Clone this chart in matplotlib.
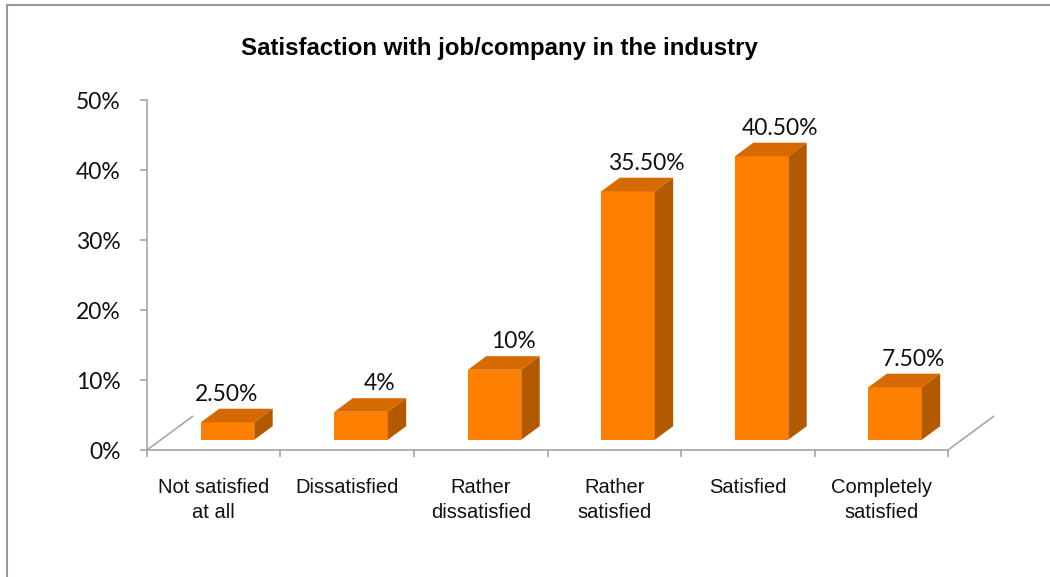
import matplotlib
matplotlib.use("Agg")
import matplotlib.pyplot as plt
from matplotlib.lines import Line2D

categories = ["Not satisfied\nat all", "Dissatisfied", "Rather\ndissatisfied",
              "Rather\nsatisfied", "Satisfied", "Completely\nsatisfied"]
values = [2.5, 4, 10, 35.5, 40.5, 7.5]
value_labels = ["2.50%", "4%", "10%", "35.50%", "40.50%", "7.50%"]
yticks = [0, 10, 20, 30, 40, 50]
ytick_labels = ["0%", "10%", "20%", "30%", "40%", "50%"]

# pseudo-3d look: floor depth vector in data units, bar placed between two depth planes
depth = (0.345, 4.86)
front_z, back_z = 0.30, 0.70
bar_w = 0.40
label_nudge = [-14, 0, 0, 0, 0, 0]  # points

c_front = "#FF8000"
c_top = "#D66A00"
c_side = "#B35900"
c_axis = "#A6A6A6"

fig = plt.figure(figsize=(10.5, 5.77), dpi=100)
fig.patch.set_facecolor("white")
ax = fig.add_axes([100/1050, 107/577, 940/1050, 380/577])
ax.set_xlim(-0.352, 6.689)
ax.set_ylim(-2.857, 51.43)
ax.set_facecolor("none")

def pt(x, y, z):
    return x + z*depth[0], y + z*depth[1]

for i, v in enumerate(values):
    x0 = i + (1 - bar_w)/2
    x1 = x0 + bar_w
    f = [pt(x0, 0, front_z), pt(x1, 0, front_z), pt(x1, v, front_z), pt(x0, v, front_z)]
    t = [pt(x0, v, front_z), pt(x1, v, front_z), pt(x1, v, back_z), pt(x0, v, back_z)]
    s = [pt(x1, 0, front_z), pt(x1, 0, back_z), pt(x1, v, back_z), pt(x1, v, front_z)]
    for poly, col in ((f, c_front), (t, c_top), (s, c_side)):
        ax.fill([p[0] for p in poly], [p[1] for p in poly], color=col, lw=0)
    lx, ly = pt(i + 0.5, v, back_z)
    ax.annotate(value_labels[i], (lx, ly), xytext=(label_nudge[i], 3),
                textcoords="offset points", ha="center", va="bottom",
                fontsize=16.5, family="Lato", color="#111111")

# floor side edges
for x in (0, 6):
    ax.plot([x, x + depth[0]], [0, depth[1]], color=c_axis, lw=1.2,
            solid_capstyle="butt")

for side in ("top", "right"):
    ax.spines[side].set_visible(False)
ax.spines["left"].set_position(("data", 0))
ax.spines["left"].set_bounds(0, 50)
ax.spines["bottom"].set_position(("data", 0))
ax.spines["bottom"].set_bounds(0, 6)
for side in ("left", "bottom"):
    ax.spines[side].set_color(c_axis)
    ax.spines[side].set_linewidth(1.2)

ax.set_yticks(yticks)
ax.set_yticklabels(ytick_labels, family="Lato", fontsize=16.5, color="#111111")
ax.tick_params(axis="y", length=5, width=1.2, color=c_axis, pad=14)

ax.set_xticks(range(7))
ax.set_xticklabels([])
ax.set_xticks([i + 0.5 for i in range(6)], minor=True)
ax.set_xticklabels(categories, minor=True, family="Liberation Sans",
                   fontsize=14.5, linespacing=1.4, color="#111111")
ax.tick_params(axis="x", which="major", length=5, width=1.2, color=c_axis)
ax.tick_params(axis="x", which="minor", length=0, pad=20)

fig.text(499.5/1050, 1 - 48/577, "Satisfaction with job/company in the industry",
         ha="center", va="center", fontsize=17.3, fontweight="bold",
         family="Liberation Sans")

# chart frame
fig.add_artist(Line2D([7/1050, 7/1050], [0, 1 - 5/577], color="#9A9A9A", lw=1.5))
fig.add_artist(Line2D([7/1050, 1], [1 - 5/577, 1 - 5/577], color="#9A9A9A", lw=1.5))

fig.savefig("out.png", dpi=100)
